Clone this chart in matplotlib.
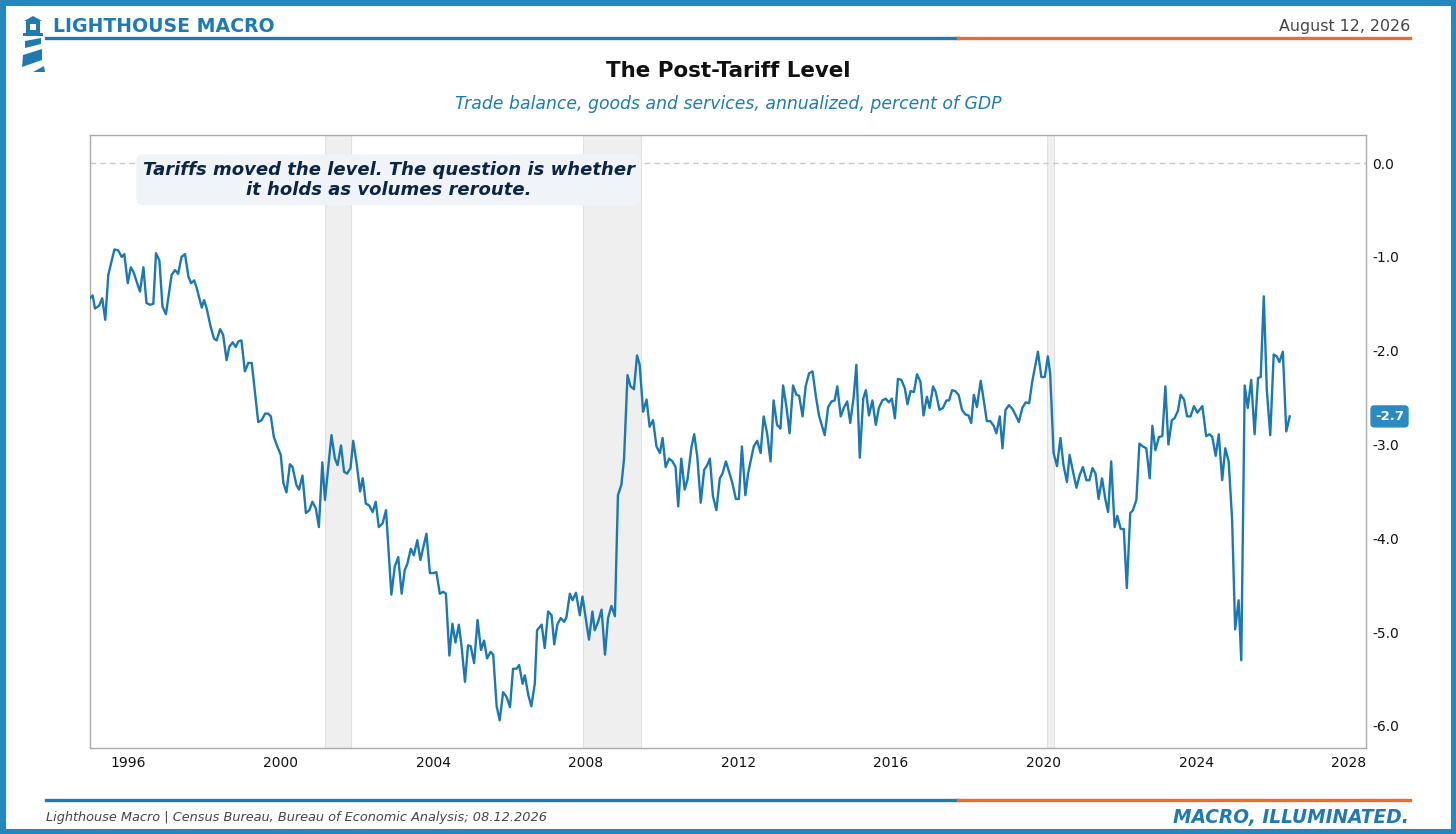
import matplotlib
matplotlib.use("Agg")
import matplotlib.pyplot as plt
from matplotlib.patches import Rectangle, Polygon
from matplotlib.lines import Line2D

# ---------------- data (decimal years, % of GDP) ----------------
dates = [
    1995.00, 1995.07, 1995.13, 1995.24, 1995.32, 1995.40, 1995.48, 1995.64, 1995.74, 1995.83,
    1995.90, 1995.99, 1996.07, 1996.14, 1996.31, 1996.40, 1996.48, 1996.57, 1996.66, 1996.73,
    1996.82, 1996.90, 1996.99, 1997.14, 1997.23, 1997.31, 1997.40, 1997.49, 1997.58, 1997.65,
    1997.73, 1997.79, 1997.93, 1997.99, 1998.06, 1998.16, 1998.25, 1998.32, 1998.41, 1998.49,
    1998.58, 1998.65, 1998.74, 1998.82, 1998.89, 1998.97, 1999.06, 1999.15, 1999.24, 1999.41,
    1999.50, 1999.59, 1999.67, 1999.74, 1999.82, 1999.91, 2000.00, 2000.07, 2000.15, 2000.24,
    2000.31, 2000.41, 2000.48, 2000.57, 2000.66, 2000.75, 2000.83, 2000.92, 2001.00,
    2001.09, 2001.16, 2001.33, 2001.42, 2001.49, 2001.58, 2001.66, 2001.74, 2001.83, 2001.90,
    2001.99, 2002.08, 2002.15, 2002.23, 2002.32, 2002.41, 2002.49, 2002.57, 2002.67, 2002.76,
    2002.90, 2002.99, 2003.08, 2003.17, 2003.25, 2003.32, 2003.41, 2003.49, 2003.58, 2003.66,
    2003.82, 2003.91, 2004.01, 2004.08, 2004.17, 2004.26, 2004.33, 2004.42, 2004.50, 2004.58,
    2004.67, 2004.74, 2004.83, 2004.91, 2004.98, 2005.07, 2005.16, 2005.25, 2005.33, 2005.41,
    2005.50, 2005.57, 2005.66, 2005.74, 2005.83, 2005.92, 2006.01, 2006.09, 2006.18, 2006.25,
    2006.34, 2006.40, 2006.49, 2006.57, 2006.66,
    2006.72, 2006.84, 2006.92, 2007.01, 2007.10, 2007.17, 2007.25, 2007.34, 2007.43, 2007.49,
    2007.58, 2007.65, 2007.74, 2007.84, 2007.91, 2008.08, 2008.17, 2008.23, 2008.32, 2008.41,
    2008.50, 2008.58, 2008.67, 2008.76, 2008.84, 2008.93, 2009.00, 2009.09, 2009.17, 2009.26,
    2009.34, 2009.41, 2009.50, 2009.59, 2009.67, 2009.76, 2009.85, 2009.94, 2010.01, 2010.09,
    2010.18, 2010.27, 2010.35, 2010.42, 2010.50, 2010.59, 2010.66, 2010.77, 2010.84, 2010.92,
    2011.01, 2011.10, 2011.18, 2011.25, 2011.33, 2011.42, 2011.51, 2011.58, 2011.67, 2011.75,
    2011.84, 2011.93, 2012.01, 2012.09, 2012.18, 2012.25,
    2012.40, 2012.49, 2012.58, 2012.66, 2012.75, 2012.84, 2012.92, 2013.01, 2013.10, 2013.17,
    2013.26, 2013.34, 2013.43, 2013.52, 2013.59, 2013.68, 2013.76, 2013.85, 2013.94, 2014.03,
    2014.11, 2014.26, 2014.35, 2014.44, 2014.52, 2014.59, 2014.68, 2014.76, 2014.85, 2014.93,
    2015.02, 2015.09, 2015.18, 2015.27, 2015.34, 2015.42, 2015.51, 2015.60, 2015.68, 2015.77,
    2015.86, 2015.94, 2016.02, 2016.10, 2016.18, 2016.27, 2016.36, 2016.43, 2016.51, 2016.60,
    2016.68, 2016.77, 2016.85, 2016.94, 2017.01, 2017.10, 2017.17, 2017.27, 2017.36, 2017.45,
    2017.52, 2017.60, 2017.68, 2017.77, 2017.86, 2017.95, 2018.03,
    2018.10, 2018.17, 2018.25, 2018.35, 2018.43, 2018.51, 2018.60, 2018.69, 2018.76, 2018.85,
    2018.92, 2019.00, 2019.09, 2019.18, 2019.27, 2019.35, 2019.44, 2019.53, 2019.62, 2019.70,
    2019.85, 2019.94, 2020.03, 2020.11, 2020.17, 2020.26, 2020.35, 2020.44, 2020.52, 2020.61,
    2020.68, 2020.77, 2020.86, 2020.94, 2021.03, 2021.12, 2021.20, 2021.28, 2021.36, 2021.44,
    2021.53, 2021.62, 2021.69, 2021.77, 2021.86, 2021.93, 2022.02, 2022.10, 2022.18, 2022.27,
    2022.34, 2022.43, 2022.51, 2022.60, 2022.69, 2022.78, 2022.85, 2022.93, 2023.02, 2023.11,
    2023.19, 2023.27, 2023.36, 2023.43, 2023.52, 2023.59, 2023.68, 2023.76, 2023.85, 2023.94,
    2024.03,
    2024.16, 2024.26, 2024.35, 2024.42, 2024.51, 2024.59, 2024.68, 2024.76, 2024.85, 2024.94,
    2025.02, 2025.11, 2025.18, 2025.27, 2025.35, 2025.44, 2025.53, 2025.62, 2025.69, 2025.77,
    2025.85, 2025.94, 2026.03, 2026.11, 2026.18, 2026.27, 2026.36, 2026.45,
]
values = [
    -1.44, -1.41, -1.55, -1.52, -1.44, -1.67, -1.19, -0.92, -0.93, -1.00,
    -0.97, -1.28, -1.11, -1.16, -1.37, -1.11, -1.49, -1.51, -1.50, -0.96,
    -1.04, -1.53, -1.61, -1.19, -1.14, -1.18, -1.00, -0.97, -1.21, -1.28,
    -1.25, -1.32, -1.54, -1.46, -1.55, -1.74, -1.87, -1.89, -1.77, -1.83,
    -2.10, -1.96, -1.91, -1.96, -1.90, -1.89, -2.22, -2.13, -2.13, -2.76,
    -2.74, -2.67, -2.67, -2.70, -2.92, -3.02, -3.11, -3.41, -3.51, -3.21,
    -3.24, -3.43, -3.48, -3.33, -3.73, -3.70, -3.61, -3.68, -3.88,
    -3.19, -3.59, -2.90, -3.15, -3.22, -3.01, -3.29, -3.31, -3.25, -2.96,
    -3.20, -3.50, -3.36, -3.63, -3.65, -3.72, -3.61, -3.88, -3.84, -3.70,
    -4.60, -4.30, -4.20, -4.59, -4.34, -4.27, -4.11, -4.18, -4.02, -4.23,
    -3.95, -4.37, -4.37, -4.36, -4.59, -4.57, -4.59, -5.25, -4.91, -5.11,
    -4.92, -5.15, -5.53, -5.14, -5.15, -5.33, -4.87, -5.19, -5.09, -5.28,
    -5.21, -5.24, -5.79, -5.94, -5.64, -5.69, -5.80, -5.39, -5.39, -5.35,
    -5.55, -5.46, -5.67, -5.79, -5.55,
    -4.98, -4.92, -5.17, -4.78, -4.82, -5.13, -4.92, -4.85, -4.89, -4.84,
    -4.59, -4.66, -4.58, -4.82, -4.62, -5.08, -4.78, -4.98, -4.89, -4.76,
    -5.24, -4.85, -4.72, -4.83, -3.54, -3.43, -3.15, -2.26, -2.38, -2.41,
    -2.05, -2.15, -2.65, -2.52, -2.81, -2.74, -3.02, -3.09, -2.93, -3.24,
    -3.15, -3.18, -3.24, -3.66, -3.15, -3.48, -3.38, -3.02, -2.89, -3.13,
    -3.62, -3.27, -3.22, -3.15, -3.55, -3.70, -3.36, -3.31, -3.18, -3.29,
    -3.41, -3.58, -3.58, -3.02, -3.54, -3.31,
    -3.02, -2.96, -3.09, -2.70, -2.88, -3.18, -2.53, -2.79, -2.83, -2.37,
    -2.61, -2.88, -2.37, -2.47, -2.48, -2.70, -2.38, -2.24, -2.22, -2.49,
    -2.69, -2.90, -2.60, -2.54, -2.53, -2.38, -2.70, -2.61, -2.54, -2.77,
    -2.49, -2.15, -3.14, -2.51, -2.42, -2.69, -2.53, -2.79, -2.61, -2.53,
    -2.51, -2.55, -2.51, -2.72, -2.30, -2.31, -2.40, -2.57, -2.43, -2.44,
    -2.25, -2.33, -2.69, -2.49, -2.61, -2.38, -2.44, -2.63, -2.61, -2.53,
    -2.53, -2.42, -2.43, -2.47, -2.63, -2.68, -2.69,
    -2.77, -2.47, -2.60, -2.32, -2.53, -2.75, -2.75, -2.80, -2.88, -2.70,
    -3.04, -2.63, -2.58, -2.62, -2.69, -2.76, -2.61, -2.55, -2.56, -2.33,
    -2.01, -2.28, -2.28, -2.06, -2.24, -3.09, -3.23, -2.93, -3.22, -3.40,
    -3.11, -3.29, -3.46, -3.33, -3.24, -3.38, -3.38, -3.25, -3.31, -3.58,
    -3.36, -3.59, -3.72, -3.18, -3.88, -3.76, -3.90, -3.90, -4.53, -3.73,
    -3.70, -3.59, -2.99, -3.02, -3.04, -3.36, -2.80, -3.06, -2.92, -2.91,
    -2.38, -3.00, -2.74, -2.72, -2.64, -2.47, -2.52, -2.70, -2.70, -2.59,
    -2.66,
    -2.59, -2.91, -2.89, -2.92, -3.12, -2.89, -3.38, -3.04, -3.18, -3.80,
    -4.97, -4.66, -5.30, -2.37, -2.61, -2.31, -2.89, -2.29, -2.28, -1.42,
    -2.42, -2.90, -2.04, -2.06, -2.12, -2.01, -2.86, -2.70,
]

recession_starts = [2001.17, 2007.92, 2020.09]
recession_ends = [2001.84, 2009.44, 2020.28]

x_ticks = [1996, 2000, 2004, 2008, 2012, 2016, 2020, 2024, 2028]
y_ticks = [0.0, -1.0, -2.0, -3.0, -4.0, -5.0, -6.0]

title = "The Post-Tariff Level"
subtitle = "Trade balance, goods and services, annualized, percent of GDP"
annotation = "Tariffs moved the level. The question is whether\nit holds as volumes reroute."
last_label = "-2.7"

# ---------------- style ----------------
BLUE = "#1f7ab3"
LINE_BLUE = "#1b78b2"
ORANGE = "#f26a2a"
BORDER = "#2487be"
W, H = 1456, 834

fig = plt.figure(figsize=(W / 100, H / 100), dpi=100)
fig.patch.set_facecolor("white")


def fx(x):
    return x / W


def fy(y):
    return 1 - y / H


# frame border
fig.add_artist(Rectangle((0, 0), 1, 1, transform=fig.transFigure, fill=False,
                         edgecolor=BORDER, linewidth=8, zorder=10))

# header / footer rules
for yy in (38, 800):
    fig.add_artist(Line2D([fx(46), fx(958)], [fy(yy), fy(yy)], color=BLUE, lw=2.4,
                          transform=fig.transFigure))
    fig.add_artist(Line2D([fx(958), fx(1410)], [fy(yy), fy(yy)], color=ORANGE, lw=2.4,
                          transform=fig.transFigure))

# lighthouse logo
def poly(pts, color=BLUE):
    fig.add_artist(Polygon([(fx(a), fy(b)) for a, b in pts], closed=True,
                           transform=fig.transFigure, facecolor=color, edgecolor="none"))

poly([(24, 21), (33, 16), (42, 21)])                  # roof
poly([(26, 21), (40, 21), (40, 33), (26, 33)])        # lantern
poly([(30, 24), (36, 24), (36, 30), (30, 30)], "white")
poly([(23, 33), (43, 33), (43, 36), (23, 36)])        # gallery
poly([(25, 41), (41, 38), (41, 44), (25, 48)])        # stripe 1
poly([(23, 55), (42, 49), (42, 60), (22, 67)])        # stripe 2
poly([(33, 72), (44, 66), (45, 72)])                  # stripe 3

fig.text(fx(53), fy(27), "LIGHTHOUSE MACRO", color=BLUE, fontsize=13.6, fontweight="bold",
         ha="left", va="center")
fig.text(fx(1410), fy(26), "August 12, 2026", color="#444444", fontsize=11.4,
         ha="right", va="center")

fig.text(0.5, fy(71), title, fontsize=15.4, fontweight="bold", color="#111111",
         ha="center", va="center")
fig.text(0.5, fy(104), subtitle, fontsize=12.45, fontstyle="italic", color=BLUE,
         ha="center", va="center")

fig.text(fx(46), fy(818), "Lighthouse Macro | Census Bureau, Bureau of Economic Analysis; 08.12.2026",
         fontsize=9.3, fontstyle="italic", color="#444444", ha="left", va="center")
fig.text(fx(1409), fy(818), "MACRO, ILLUMINATED.", fontsize=13.4, fontstyle="italic",
         fontweight="bold", color=BLUE, ha="right", va="center")

# ---------------- axes ----------------
ax = fig.add_axes([fx(90), fy(748), fx(1366) - fx(90), fy(135) - fy(748)])
ax.set_facecolor("white")

for s, e in zip(recession_starts, recession_ends):
    ax.axvspan(s, e, facecolor="#efefef", edgecolor="#e0e0e0", lw=0.8, zorder=0)

ax.axhline(0, color="#c8c8c8", lw=1, ls=(0, (4, 3)), zorder=1)
ax.plot(dates, values, color=LINE_BLUE, lw=1.7, zorder=3)

ax.set_xlim(1995.0, 2028.45)
ax.set_ylim(-6.235, 0.3)
ax.set_xticks(x_ticks)
ax.set_xticklabels([str(t) for t in x_ticks])
ax.set_yticks(y_ticks)
ax.set_yticklabels([f"{t:.1f}" for t in y_ticks])
ax.yaxis.tick_right()
ax.tick_params(axis="both", length=0, labelsize=10, colors="#111111")
ax.tick_params(axis="y", pad=4.5)
ax.tick_params(axis="x", pad=6)
for sp in ax.spines.values():
    sp.set_color("#aaaaaa")
    sp.set_linewidth(1)

ax.text(0.234, 0.927, annotation, transform=ax.transAxes, ha="center", va="center",
        fontsize=13.0, fontweight="bold", fontstyle="italic", color="#0d2544",
        linespacing=1.15, zorder=5,
        bbox=dict(boxstyle="round,pad=0.35,rounding_size=0.4", facecolor="#f0f4f8",
                  edgecolor="none"))

ax.annotate(last_label, xy=(1.0, values[-1]), xycoords=("axes fraction", "data"),
            xytext=(6.5, 0), textcoords="offset points", ha="left", va="center",
            fontsize=9.5, fontweight="bold", color="white", zorder=6,
            bbox=dict(boxstyle="round,pad=0.3,rounding_size=0.25", facecolor="#2a8bc4",
                      edgecolor="#2a8bc4"),
            annotation_clip=False)

fig.savefig("out.png", dpi=100, facecolor="white")
